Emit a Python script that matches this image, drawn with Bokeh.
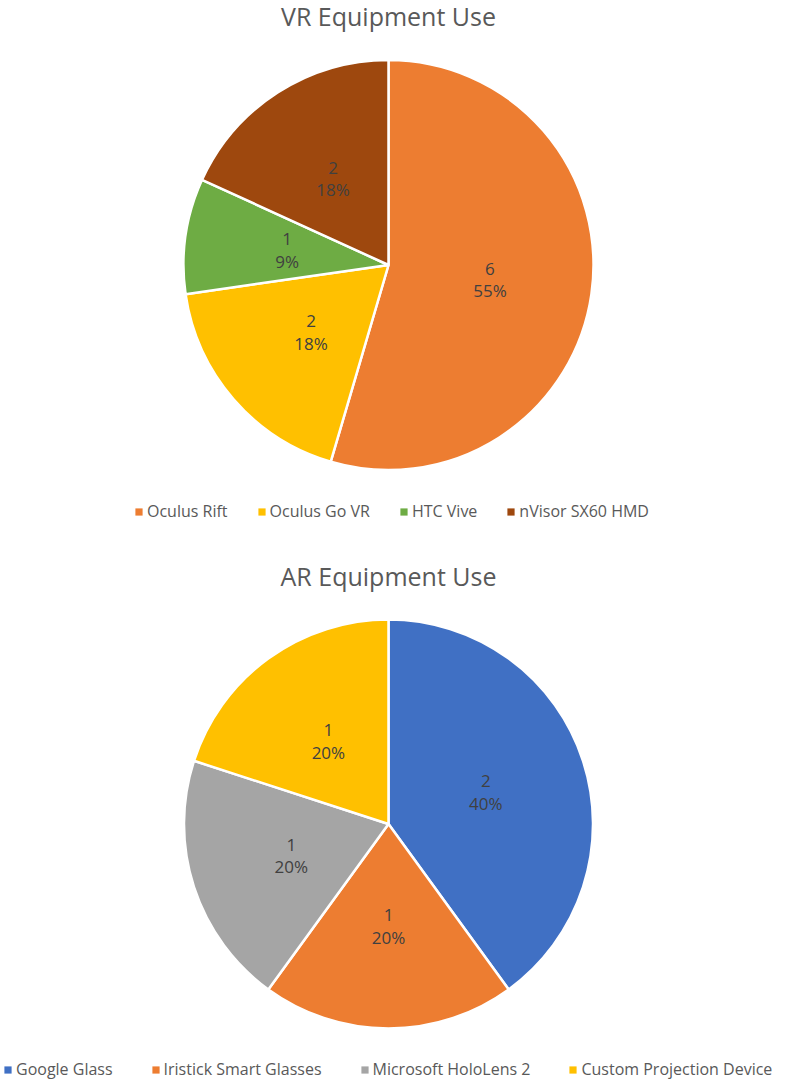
import math
from bokeh.plotting import figure
from bokeh.models import ColumnDataSource, Range1d, Legend, LegendItem, Label
from bokeh.core.properties import value
from bokeh.embed import file_html
from bokeh.resources import INLINE

# ---- data ----
vr_title = "VR Equipment Use"
vr_labels = ["Oculus Rift", "Oculus Go VR", "HTC Vive", "nVisor SX60 HMD"]
vr_values = [6, 2, 1, 2]
vr_colors = ["#ED7D31", "#FFC000", "#6EAC44", "#9E480E"]

ar_title = "AR Equipment Use"
ar_labels = ["Google Glass", "Iristick Smart Glasses", "Microsoft HoloLens 2", "Custom Projection Device"]
ar_values = [2, 1, 1, 1]
ar_colors = ["#4070C4", "#ED7D31", "#A5A5A5", "#FFC000"]

W, H = 788, 1081
FONT = "Open Sans"

p = figure(width=W, height=H, x_range=Range1d(0, W), y_range=Range1d(0, H),
           output_backend="svg", toolbar_location=None, min_border=0,
           x_axis_type=None, y_axis_type=None)
p.grid.visible = False
p.outline_line_color = None
p.background_fill_color = "white"
p.border_fill_color = "white"


def pie(title, labels, values, colors, cx, cy, r, title_y, leg_x, leg_y, spacing):
    total = sum(values)
    starts, ends, lx, ly_v, ly_p, vt, pt = [], [], [], [], [], [], []
    cum = 0
    for v in values:
        a0 = math.pi / 2 - 2 * math.pi * cum / total
        cum += v
        a1 = math.pi / 2 - 2 * math.pi * cum / total
        mid = (a0 + a1) / 2
        x = cx + 0.5 * r * math.cos(mid)
        y = cy + 0.5 * r * math.sin(mid)
        starts.append(a0)
        ends.append(a1)
        lx.append(x)
        ly_v.append(y + 11)
        ly_p.append(y - 11)
        vt.append(str(v))
        pt.append(f"{round(100 * v / total)}%")
    src = ColumnDataSource(dict(start=starts, end=ends, color=colors, label=labels,
                                lx=lx, lyv=ly_v, lyp=ly_p, vt=vt, pt=pt))
    p.wedge(x=cx, y=cy, radius=r, start_angle="start", end_angle="end",
            direction="clock", fill_color="color", line_color="white",
            line_width=2.5, source=src)
    # proxy (zero radius) wedges used only for the legend swatches
    proxy = p.wedge(x=cx, y=cy, radius=0, start_angle="start", end_angle="end",
                    direction="clock", fill_color="color", line_color=None,
                    source=src)
    for col in ("vt", "pt"):
        p.text(x="lx", y="lyv" if col == "vt" else "lyp", text=col, source=src,
               text_font=value(FONT), text_font_size="17px", text_color="#404040",
               text_align="center", text_baseline="middle")
    p.add_layout(Label(x=cx, y=title_y, text=title, text_font=FONT,
                       text_font_size="25px", text_color="#595959",
                       text_align="center", text_baseline="alphabetic"))
    items = [LegendItem(label=lab, renderers=[proxy], index=i) for i, lab in enumerate(labels)]
    leg = Legend(items=items, location=(leg_x, leg_y), orientation="horizontal",
                 glyph_width=9, glyph_height=9, label_standoff=4, spacing=spacing,
                 padding=0, margin=0, label_height=16,
                 label_text_font=FONT, label_text_font_size="16px",
                 label_text_color="#595959", background_fill_alpha=0,
                 border_line_color=None)
    p.add_layout(leg)


# VR chart (top)
pie(vr_title, vr_labels, vr_values, vr_colors,
    cx=388, cy=816.5, r=205, title_y=1066, leg_x=134, leg_y=559, spacing=29)
# AR chart (bottom)
pie(ar_title, ar_labels, ar_values, ar_colors,
    cx=388, cy=257.5, r=204.5, title_y=506, leg_x=3, leg_y=1, spacing=38)

open("out.html", "w").write(file_html(p, INLINE))
